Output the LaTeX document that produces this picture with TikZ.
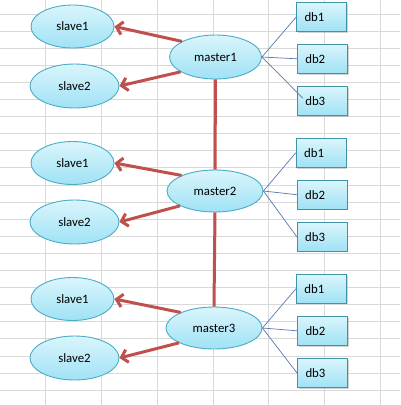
\documentclass[tikz,border=0pt]{standalone}
\usepackage{fontspec}
\setmainfont{Carlito}
\usetikzlibrary{arrows.meta,shadows,shapes.geometric}
\definecolor{gridc}{HTML}{D9D9D9}
\definecolor{redl}{HTML}{C0504D}
\definecolor{bordc}{HTML}{4BACC6}
\definecolor{topc}{HTML}{DAF5FC}
\definecolor{botc}{HTML}{9FE2F5}
\definecolor{thinc}{HTML}{5B78AE}
\tikzset{
  oval/.style={ellipse, draw=bordc, line width=0.9pt, top color=topc, bottom color=botc,
    inner sep=0pt, font=\fontsize{12.8}{15}\selectfont, text=black},
  dbbox/.style={rectangle, draw=bordc!85!black, line width=0.9pt, top color=topc, bottom color=botc,
    minimum height=29pt, text width=34pt, inner xsep=8pt, inner ysep=0pt, align=left,
    font=\fontsize{12.8}{15}\selectfont, text=black,
    drop shadow={shadow xshift=1.2pt, shadow yshift=-1.2pt, fill=black!35, opacity=0.5}},
  redarrow/.style={draw=redl, line width=3pt, -{Straight Barb[length=6pt,width=13pt]}},
  redline/.style={draw=redl, line width=3pt},
  thinline/.style={draw=thinc, line width=0.7pt},
  gridline/.style={draw=gridc, line width=1pt}
}
\begin{document}
\begin{tikzpicture}[x=1pt,y=-1pt]
\useasboundingbox (0,0) rectangle (400,405);
\fill[white] (0,0) rectangle (400,405);
% grid
\foreach \gx in {45,101,157,213,268,324,380} {\draw[gridline] (\gx,0) -- (\gx,405);}
\foreach \k in {0,...,23} {\draw[gridline] (0,14+17.1*\k) -- (400,14+17.1*\k);}
% masters
\node[oval, minimum width=92pt, minimum height=44pt] (m1) at (215.5,57) {master1};
\node[oval, minimum width=96pt, minimum height=42pt] (m2) at (215,191) {master2};
\node[oval, minimum width=96pt, minimum height=42pt] (m3) at (214,328) {master3};
% slaves
\node[oval, minimum width=83pt, minimum height=43pt] (s11) at (72.5,26.5) {slave1};
\node[oval, minimum width=89pt, minimum height=44pt] (s12) at (74.5,86) {slave2};
\node[oval, minimum width=83pt, minimum height=43pt] (s21) at (72.5,163) {slave1};
\node[oval, minimum width=89pt, minimum height=44pt] (s22) at (74.5,222) {slave2};
\node[oval, minimum width=83pt, minimum height=43pt] (s31) at (72.5,299) {slave1};
\node[oval, minimum width=89pt, minimum height=44pt] (s32) at (74.5,358) {slave2};
% db boxes
\node[dbbox] (d11) at (321.5,17.2) {db1};
\node[dbbox] (d12) at (322.3,58.8) {db2};
\node[dbbox] (d13) at (322.3,101.2) {db3};
\node[dbbox] (d21) at (321.2,152.8) {db1};
\node[dbbox] (d22) at (322.2,194.7) {db2};
\node[dbbox] (d23) at (322.2,236.7) {db3};
\node[dbbox] (d31) at (321.4,288.7) {db1};
\node[dbbox] (d32) at (322.5,330.8) {db2};
\node[dbbox] (d33) at (322.5,373) {db3};
% red connectors
\draw[redline] (m1.south) -- (m2.north);
\draw[redline] (m2.south) -- (m3.north);
\foreach \m/\a/\b in {m1/s11/s12, m2/s21/s22, m3/s31/s32} {
  \draw[redarrow] (\m.155) -- (\a.east);
  \draw[redarrow] (\m.203) -- (\b.east);
}
% thin connectors
\foreach \m/\a/\b/\c in {m2/d21/d22/d23, m3/d31/d32/d33} {
  \draw[thinline] (\m.east) -- (\a.west);
  \draw[thinline] (\m.east) -- (\b.west);
  \draw[thinline] (\m.east) -- (\c.west);
}
\draw[thinline] (m1.east) -- (d11.west);
\draw[thinline] (m1.east) -- (d12.west);
\draw[thinline] (m1.east) -- ([shift={(6pt,3pt)}]d13.west);
\end{tikzpicture}
\end{document}
